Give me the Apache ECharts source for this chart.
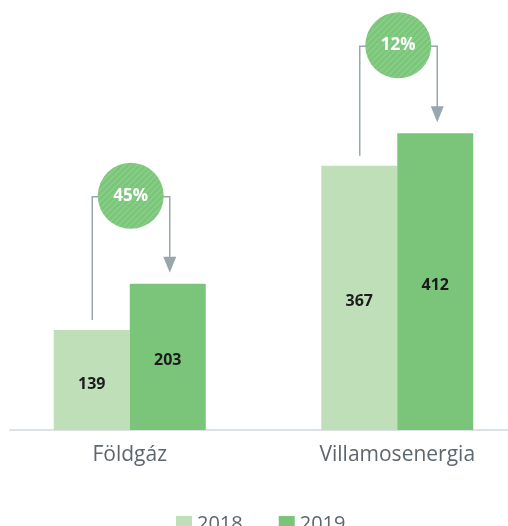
<!DOCTYPE html>
<html>
<head>
    <meta charset="utf-8">
    <title>Földgáz / Villamosenergia</title>
    <script src="https://cdn.jsdelivr.net/npm/echarts@6/dist/echarts.min.js"></script>
    <style>
        body { margin: 0; background: #fff; overflow: hidden; }
        /* a kategóriasávok kicsit túlnyúlnak a képen */
        #main { width: 535px; height: 526px; margin-left: -4px; }
    </style>
</head>
<body>
    <div id="main"></div>
    <script type="text/javascript">
        // adatok
        const categories = ['Földgáz', 'Villamosenergia'];
        const seriesNames = ['2018', '2019'];
        const values2018 = [139, 367];
        const values2019 = [203, 412];
        const changeLabels = ['45%', '12%'];

        const colors = { y2018: '#bfdfb8', y2019: '#7bc57a', line: '#98a6ae' };
        const font = 'Open Sans';

        // csíkos minta a körökhöz
        const pc = document.createElement('canvas');
        pc.width = 6; pc.height = 6;
        const ctx = pc.getContext('2d');
        ctx.fillStyle = '#7cc67b';
        ctx.fillRect(0, 0, 6, 6);
        ctx.strokeStyle = '#8ccf89';
        ctx.lineWidth = 1.3;
        [[0, 6, 6, 0], [-3, 3, 3, -3], [3, 9, 9, 3]].forEach(s => {
            ctx.beginPath(); ctx.moveTo(s[0], s[1]); ctx.lineTo(s[2], s[3]); ctx.stroke();
        });
        const stripeFill = { image: pc, repeat: 'repeat' };

        const myChart = echarts.init(document.getElementById('main'));

        const barLabel = {
            show: true,
            position: 'inside',
            offset: [0, 4],
            color: '#1c1c1c',
            fontFamily: font,
            fontWeight: 'bold',
            fontSize: 16
        };

        const option = {
            animation: false,
            textStyle: { fontFamily: font },
            legend: {
                data: seriesNames,
                left: 175,
                top: 509,
                icon: 'rect',
                itemWidth: 16,
                itemHeight: 16,
                itemGap: 36,
                textStyle: { color: '#5b6670', fontSize: 20, fontFamily: font }
            },
            grid: [
                { left: 0, right: 0, top: 70, bottom: 96 },
                { left: 14, right: 23, top: 70, bottom: 96 }
            ],
            xAxis: [
                {
                    type: 'category',
                    data: categories,
                    gridIndex: 0,
                    axisLine: { show: false },
                    axisTick: { show: false },
                    axisLabel: { color: '#5b6670', fontSize: 21, margin: 15 }
                },
                {
                    type: 'value',
                    gridIndex: 1,
                    min: 0, max: 1,
                    axisLine: { show: true, lineStyle: { color: '#dde2e6', width: 2 } },
                    axisTick: { show: false },
                    axisLabel: { show: false },
                    splitLine: { show: false }
                }
            ],
            yAxis: [
                { type: 'value', gridIndex: 0, min: 0, max: 500, show: false },
                { type: 'value', gridIndex: 1, min: 0, max: 1, show: false }
            ],
            series: [
                {
                    name: seriesNames[0],
                    type: 'bar',
                    barWidth: 76,
                    barGap: '0%',
                    itemStyle: { color: colors.y2018 },
                    label: barLabel,
                    data: values2018
                },
                {
                    name: seriesNames[1],
                    type: 'bar',
                    barWidth: 76,
                    barGap: '0%',
                    itemStyle: { color: colors.y2019 },
                    label: barLabel,
                    data: values2019
                },
                {
                    // változás jelölő: vonalak, nyíl és kör
                    type: 'custom',
                    z: 5,
                    data: categories.map((c, i) => [i, values2018[i], values2019[i]]),
                    renderItem: function (params, api) {
                        const i = api.value(0);
                        const p18 = api.coord([i, api.value(1)]);
                        const p19 = api.coord([i, api.value(2)]);
                        const cx = p18[0] + 1;
                        const x18 = p18[0] - 37.5;
                        const x19 = p18[0] + 40;
                        const cy = Math.min(p18[1], p19[1]) - 88;
                        const tip = p19[1] - 11;
                        const lineStyle = { stroke: colors.line, lineWidth: 1.5, fill: null };
                        return {
                            type: 'group',
                            children: [
                                {
                                    type: 'polyline',
                                    shape: { points: [[x18, p18[1] - 10], [x18, cy + 1], [cx, cy + 1]] },
                                    style: lineStyle
                                },
                                {
                                    type: 'polyline',
                                    shape: { points: [[cx, cy + 1], [x19, cy + 1], [x19, tip - 14]] },
                                    style: lineStyle
                                },
                                {
                                    type: 'polygon',
                                    shape: { points: [[x19 - 6.5, tip - 16], [x19 + 6.5, tip - 16], [x19, tip]] },
                                    style: { fill: colors.line }
                                },
                                {
                                    type: 'circle',
                                    shape: { cx: cx, cy: cy, r: 33 },
                                    style: { fill: stripeFill }
                                },
                                {
                                    type: 'text',
                                    x: cx, y: cy,
                                    style: {
                                        text: changeLabels[i],
                                        fill: '#fff',
                                        font: 'bold 17px "Open Sans"',
                                        align: 'center',
                                        verticalAlign: 'middle'
                                    }
                                }
                            ]
                        };
                    }
                }
            ]
        };

        myChart.setOption(option);
    </script>
</body>
</html>
